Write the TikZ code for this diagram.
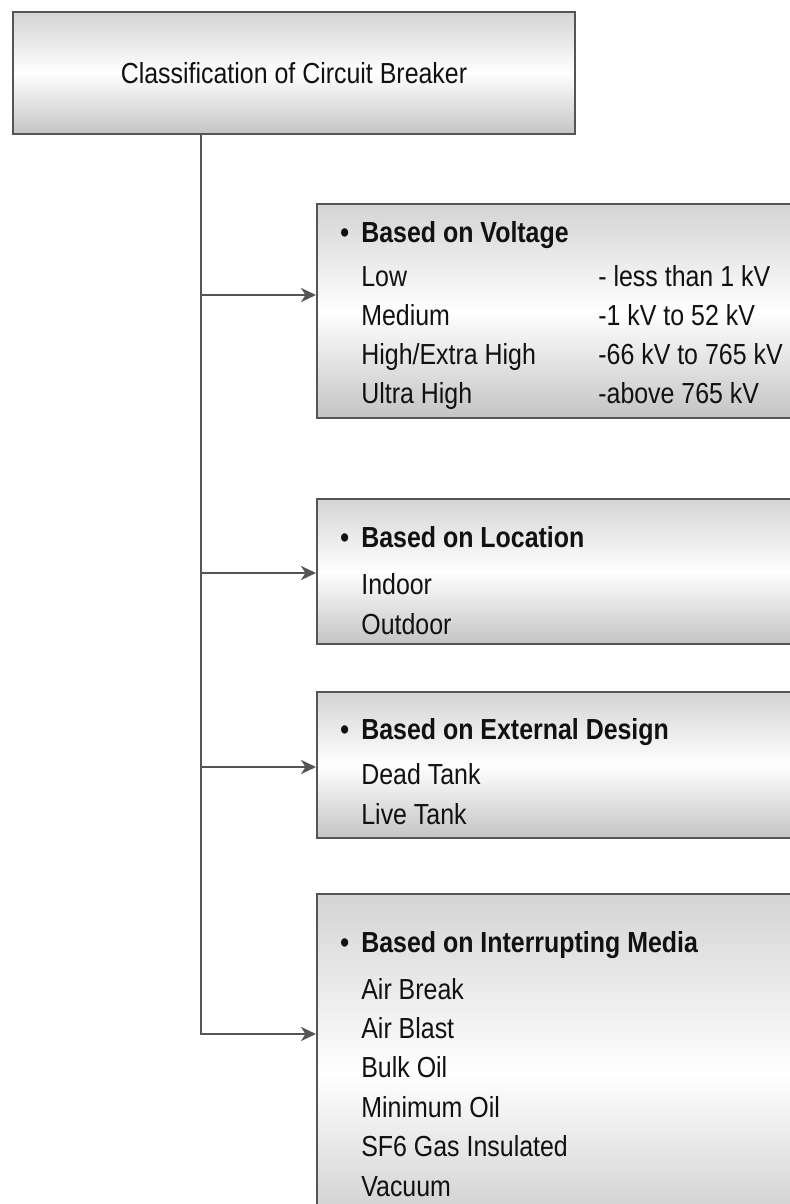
\documentclass[tikz,border=0pt]{standalone}
\usepackage{fontspec}
\setmainfont{Liberation Sans}[FakeStretch=0.86]
\usepackage{tikz}
\usetikzlibrary{arrows.meta,calc}
\definecolor{ink}{HTML}{111111}
\definecolor{boxline}{HTML}{555555}
\definecolor{shadetop}{HTML}{D4D4D4}
\definecolor{shadebot}{HTML}{C4C4C4}
\newcommand{\cbsize}{\fontsize{16.5pt}{22pt}\selectfont}

\begin{document}
\begin{tikzpicture}[x=0.02cm,y=-0.02cm,
  headbox/.style={draw=boxline,line width=1.2pt,top color=shadetop,bottom color=shadebot,
    middle color=white,minimum width=11.24cm,minimum height=2.44cm,font=\cbsize,text=ink},
  catbox/.style={draw=boxline,line width=1.2pt,top color=shadetop,bottom color=shadebot,
    middle color=white,anchor=north west,minimum width=10.2cm,inner sep=0pt},
  heading/.style={anchor=base west,inner sep=0pt,font=\cbsize\bfseries,text=ink},
  entry/.style={anchor=base west,inner sep=0pt,font=\cbsize,text=ink},
  trunk/.style={draw=boxline,line width=1.2pt},
  feed/.style={trunk,-{Stealth[length=8.5pt,width=8pt,inset=2.5pt]}}
]
\useasboundingbox (0,0) rectangle (790,1204);
\clip (0,0) rectangle (790,1204);
\node[headbox] (title) at (294,73) {Classification of Circuit Breaker};
\node[catbox,minimum height=4.28cm] (voltage) at (316,203) {};
\node[catbox,minimum height=2.90cm] (location) at (316,498) {};
\node[catbox,minimum height=2.92cm] (design) at (316,691) {};
\node[catbox,minimum height=7.20cm] (media) at (316,893) {};
\node[heading] (vhead) at (361,242) {\llap{\textbullet\hspace{7pt}}Based on Voltage};
\node[heading] (lhead) at (361,547) {\llap{\textbullet\hspace{7pt}}Based on Location};
\node[heading] (dhead) at (361,739) {\llap{\textbullet\hspace{7pt}}Based on External Design};
\node[heading] (mhead) at (361,952) {\llap{\textbullet\hspace{7pt}}Based on Interrupting Media};
\foreach \lo/\hi [count=\i] in {Low/{- less than 1 kV},Medium/{-1 kV to 52 kV},
    {High/Extra High}/{-66 kV to 765 kV},{Ultra High}/{-above 765 kV}} {
  \node[entry] (vl\i) at ($(vhead.base west)+(0,44+39*\i-39)$) {\lo};
  \node[entry] (vr\i) at ($(vl\i.base west)+(237,0)$) {\hi};
}
\foreach \t [count=\i] in {Indoor,Outdoor}
  \node[entry] (ll\i) at ($(lhead.base west)+(0,47+40*\i-40)$) {\t};
\foreach \t [count=\i] in {Dead Tank,Live Tank}
  \node[entry] (dl\i) at ($(dhead.base west)+(0,45+40*\i-40)$) {\t};
\foreach \t [count=\i] in {Air Break,Air Blast,Bulk Oil,Minimum Oil,SF6 Gas Insulated,Vacuum}
  \node[entry] (ml\i) at ($(mhead.base west)+(0,47+39.4*\i-39.4)$) {\t};
\coordinate (j1) at (201,295);
\coordinate (j2) at (201,573);
\coordinate (j3) at (201,767);
\coordinate (j4) at (201,1034);
\draw[feed] (title.south -| j4) -- (j4) -- (j4 -| media.west);
\foreach \j/\b in {j1/voltage,j2/location,j3/design}
  \draw[feed] (\j) -- (\j -| \b.west);
\end{tikzpicture}
\end{document}
